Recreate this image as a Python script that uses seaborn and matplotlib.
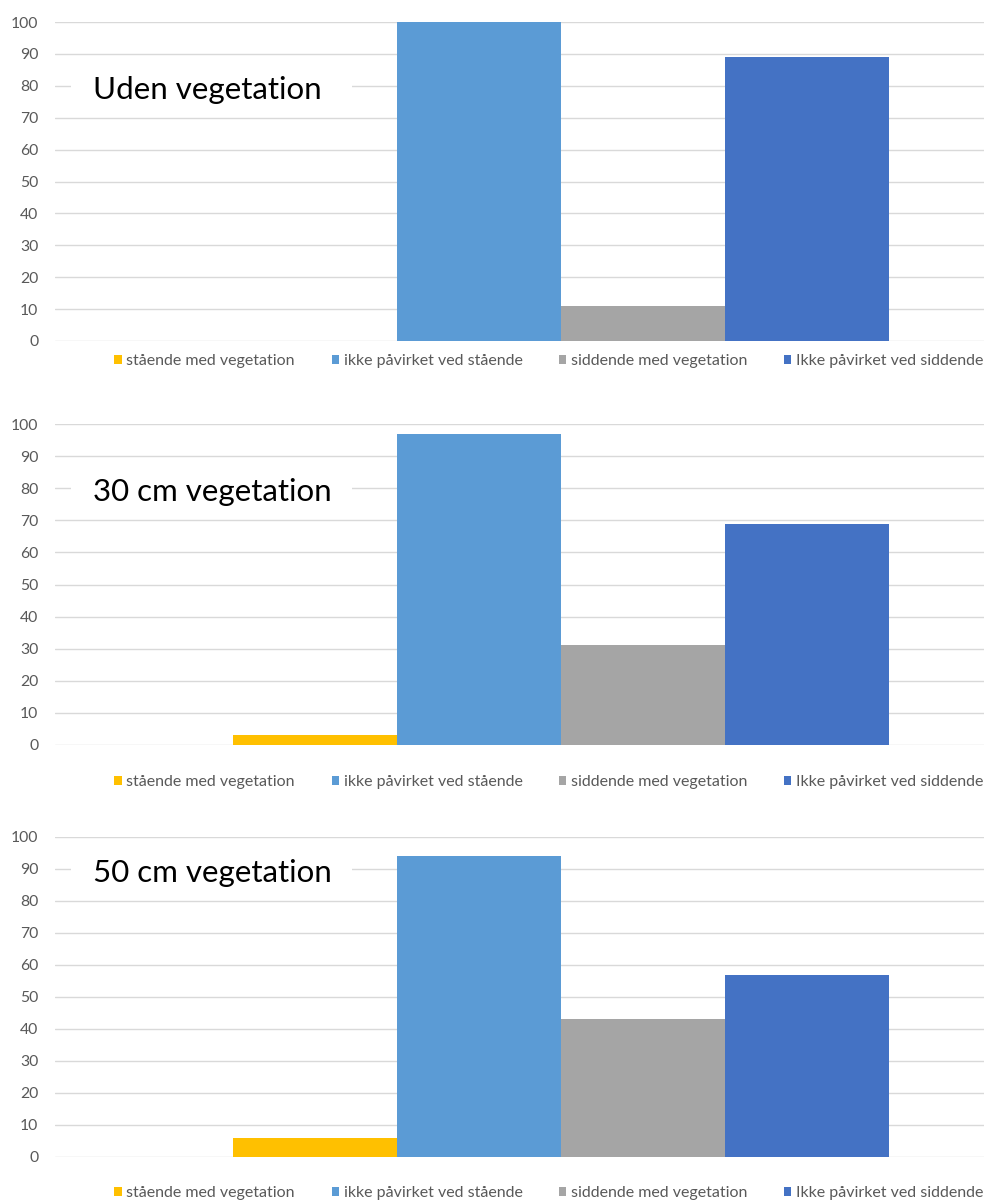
import matplotlib
matplotlib.use("Agg")
import matplotlib.pyplot as plt
from matplotlib.patches import Rectangle
import seaborn as sns
import pandas as pd

series = ["stående med vegetation", "ikke påvirket ved stående",
          "siddende med vegetation", "Ikke påvirket ved siddende"]
colors = ["#FFC000", "#5B9BD5", "#A5A5A5", "#4472C4"]
panel_titles = ["Uden vegetation", "30 cm vegetation", "50 cm vegetation"]
values_uden = [0, 100, 11, 89]
values_30 = [3, 97, 31, 69]
values_50 = [6, 94, 43, 57]
yticks = [0, 10, 20, 30, 40, 50, 60, 70, 80, 90, 100]
title_levels = [80, 80, 90]

sns.set_theme(style="white")
plt.rcParams["font.family"] = ["Lato", "DejaVu Sans"]

W, H = 984, 1202
fig = plt.figure(figsize=(W / 100, H / 100), dpi=100)

# pixel geometry: (y of 100, y of 0, legend y)
geo = [(22, 341, 361), (424, 745, 782), (837, 1157, 1193)]
left_px = 55
center_px = 561
legend_center_px = 549
px_per_unit = 656 / 0.8
xl = (left_px - center_px) / px_per_unit
xr = (W - center_px) / px_per_unit

for vals, title, lvl, (ytop, ybot, yleg) in zip(
        [values_uden, values_30, values_50], panel_titles, title_levels, geo):
    ax = fig.add_axes([left_px / W, 1 - ybot / H, 1 - left_px / W, (ybot - ytop) / H])
    df = pd.DataFrame({"g": ["a"] * 4, "serie": series, "v": vals})
    sns.barplot(data=df, x="g", y="v", hue="serie", hue_order=series,
                palette=colors, width=0.8, saturation=1, ax=ax,
                edgecolor="none", linewidth=0, legend=True, zorder=3)
    ax.set_xlim(xl, xr)
    ax.set_ylim(0, 100)
    ax.set_yticks(yticks)
    ax.set_xticks([])
    ax.set_xlabel("")
    ax.set_ylabel("")
    ax.grid(axis="y", color="#D9D9D9", linewidth=1, zorder=0)
    ax.set_axisbelow(True)
    for s in ax.spines.values():
        s.set_visible(False)
    ax.tick_params(axis="y", length=0, pad=12, labelsize=11.3, labelcolor="#595959")
    handles, labels = ax.get_legend_handles_labels()
    ax.get_legend().remove()
    fig.legend(handles, labels, loc="center", ncol=4,
               bbox_to_anchor=(legend_center_px / W, 1 - yleg / H),
               frameon=False, fontsize=11.5, labelcolor="#595959",
               handlelength=0.45, handleheight=0.45, handletextpad=0.3,
               columnspacing=2.3, borderaxespad=0)
    bx0 = xl + (71 - left_px) / px_per_unit
    bx1 = xl + (352 - left_px) / px_per_unit
    ax.add_patch(Rectangle((bx0, lvl - 4.5), bx1 - bx0, 9, facecolor="white",
                           edgecolor="none", zorder=4))
    ax.text(xl + (93 - left_px) / px_per_unit, lvl - 1.2, title, fontsize=22.5,
            ha="left", va="center", color="black", zorder=5)

fig.savefig("out.png", dpi=100)
